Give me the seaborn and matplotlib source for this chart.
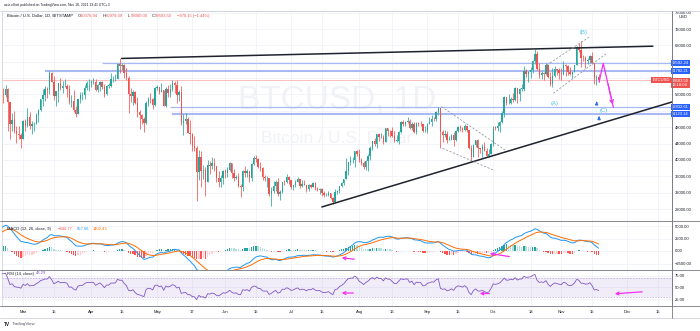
import numpy as np
import pandas as pd
import matplotlib
matplotlib.use("Agg")
import matplotlib.pyplot as plt
from matplotlib.transforms import blended_transform_factory
from matplotlib.ticker import FuncFormatter
import seaborn as sns

# ---------------------------------------------------------------- data
# closes Jan 1 - Feb 19 2021 (only used to warm up the indicators, off-screen)
warmup_close = [29380, 32130, 32980, 31990, 33990, 36780, 39410, 40580, 40240, 38200,
                35540, 33930, 37330, 39160, 36800, 36000, 35800, 36630, 35890, 35470,
                30830, 33000, 32080, 32270, 32370, 32570, 30430, 33440, 34320, 34300,
                33110, 33520, 35490, 37620, 36930, 38300, 39250, 38880, 46390, 46440,
                44840, 47960, 47360, 47170, 48680, 47930, 49150, 52120, 51610, 55910]

first_day = "2021-02-20"

close_feb = [55900, 57400, 54100, 48900, 49700, 47000, 46300, 46100, 45200]
high_feb = [57500, 58350, 57500, 54200, 51400, 52000, 48400, 48300, 46700]
low_feb = [53900, 55500, 47000, 45000, 47000, 46700, 44100, 45200, 43000]

close_mar = [49600, 48400, 50500, 48400, 48800, 48900, 50900, 52300, 54900, 55800, 57300, 57200,
             61200, 59000, 55600, 56900, 58900, 57600, 58000, 58100, 57400, 54100, 54300, 52300,
             51300, 55000, 55800, 55800, 57600, 58800, 58800]
high_mar = [49800, 50100, 52600, 51800, 49400, 49200, 51400, 52400, 54900, 57300, 58000, 57900,
            61800, 61600, 60600, 56900, 58900, 60000, 59400, 59900, 58600, 58400, 55800, 57200,
            53200, 55000, 56500, 56600, 58300, 59300, 59800]
low_mar = [45100, 47100, 48100, 47500, 46300, 47100, 48900, 49300, 51900, 53100, 54300, 55200,
           56100, 59000, 54600, 53300, 54200, 57000, 56300, 57900, 55500, 53700, 53000, 51700,
           50400, 51300, 53900, 54700, 54900, 57000, 56900]

close_apr = [59000, 59000, 57100, 58200, 59100, 57900, 56000, 58100, 58100, 59800, 59800, 59900,
             63500, 62900, 63100, 61300, 60000, 56200, 55700, 56500, 53800, 51700, 51100, 50000,
             49000, 54000, 55000, 54800, 53500, 57700]
high_apr = [59500, 60000, 59800, 58500, 59300, 59400, 58600, 58200, 58900, 61200, 60600, 61100,
            63800, 64800, 63800, 63500, 62500, 60400, 57500, 57000, 56800, 55400, 52100, 51200,
            50500, 54300, 55400, 56400, 55100, 57900]
low_apr = [57900, 58500, 56900, 56500, 56800, 57300, 55500, 55800, 57700, 57900, 59100, 59400,
           59800, 61300, 62100, 60000, 59600, 51500, 54200, 53500, 53700, 50600, 47500, 48800,
           46900, 48800, 53300, 53900, 52400, 53100]

close_may = [57800, 56600, 57200, 53200, 57400, 56400, 57300, 58900, 58200, 55800, 56700, 49100,
             49600, 49900, 46700, 46400, 43500, 42900, 37000, 40700, 37300, 37500, 34700, 38800,
             38400, 39300, 38500, 35700, 34600, 35700, 37300]
high_may = [58400, 57900, 58900, 57200, 57800, 58300, 58600, 59500, 59200, 59500, 57000, 58000,
            51200, 51500, 50600, 49700, 46500, 45800, 43500, 42400, 42200, 38800, 38200, 39900,
            39800, 40800, 40400, 38200, 37300, 36400, 37500]
low_may = [57000, 56100, 56500, 53100, 52900, 55300, 55300, 56900, 56300, 54000, 54500, 48600,
           46200, 48800, 46600, 43800, 42100, 42300, 30000, 35000, 33500, 35300, 31100, 34500,
           36500, 37800, 37200, 34700, 33500, 33400, 34200]

close_jun = [36700, 37600, 39200, 36800, 35500, 35800, 33600, 33400, 37400, 36700, 37300, 35600,
             39100, 40500, 40200, 38300, 38100, 35800, 35500, 35600, 31600, 32500, 33700, 34600,
             31600, 32200, 34700, 34500, 35900, 35000]
high_jun = [37900, 38200, 39400, 39300, 37900, 36400, 36800, 34000, 37500, 38400, 37700, 37400,
            39300, 41000, 41300, 40500, 39500, 38200, 36400, 36100, 35700, 33300, 34800, 35200,
            35500, 32700, 34700, 35200, 36600, 36000]
low_jun = [35700, 35900, 37200, 35600, 34800, 35300, 33400, 31000, 32400, 35800, 35900, 34700,
           34800, 38800, 39500, 38100, 37400, 35100, 34800, 33400, 31300, 28800, 31800, 32300,
           31300, 30200, 32000, 33900, 34300, 34000]

close_jul = [33500, 33800, 34700, 35300, 33700, 34200, 33900, 32900, 33800, 33500, 34300, 33100,
             32700, 32800, 31800, 31400, 31500, 31800, 30800, 29800, 32100, 32300, 33600, 34300,
             35300, 37300, 39400, 40000, 40000, 42200, 41500]
high_jul = [35000, 33900, 35000, 35900, 35300, 35000, 35000, 33900, 34100, 34200, 34600, 34600,
            33300, 33100, 33200, 32300, 31900, 32400, 31900, 31000, 32800, 32600, 33700, 34500,
            35400, 40500, 39500, 40900, 40600, 42300, 42400]
low_jul = [32800, 32700, 33300, 34500, 33200, 33500, 33800, 32100, 32300, 33100, 33300, 32700,
           32300, 31700, 31200, 31000, 31200, 31100, 30500, 29300, 29500, 31700, 32000, 33400,
           33900, 35300, 36400, 38800, 39300, 38300, 41000]

close_aug = [39900, 39200, 38200, 39700, 40900, 42800, 44600, 43800, 46300, 45600, 45600, 44400,
             47800, 47100, 47000, 45900, 44700, 44700, 46800, 49300, 48900, 49300, 49500, 47700,
             48900, 46900, 49100, 48900, 48800, 47000, 47100]
high_aug = [42600, 40400, 39800, 39900, 41400, 43300, 44700, 45300, 46400, 46700, 46700, 46200,
            47900, 47800, 47400, 48000, 47100, 46000, 47000, 49400, 49800, 49500, 50500, 49900,
            49200, 49300, 49200, 49300, 49600, 48900, 48200]
low_aug = [39500, 38700, 37700, 37500, 37400, 39900, 42500, 43300, 42900, 44700, 45400, 43800,
           44300, 45900, 45500, 45700, 44400, 44300, 43900, 46700, 48400, 48200, 49100, 47600,
           47200, 46600, 46400, 48400, 48300, 46900, 46800]

close_sep = [48800, 49300, 50000, 49900, 51800, 52700, 46900, 46100, 46400, 44800, 45200, 46100,
             44900, 47100, 48100, 47800, 47300, 48300, 47200, 43000, 40700, 43600, 44900, 42800,
             42700, 43200, 42200, 41000, 41500, 43800]
high_sep = [49000, 50400, 51000, 50500, 51900, 52900, 52800, 47300, 47300, 47000, 45900, 46400,
            46800, 47200, 48400, 48500, 48100, 48800, 48300, 47300, 43600, 44000, 44900, 45000,
            42900, 43900, 44300, 42800, 42600, 44100]
low_sep = [46600, 48700, 48400, 49500, 49500, 50900, 42800, 44400, 45600, 44200, 44800, 44800,
           43400, 44700, 46800, 47100, 46800, 47100, 46900, 42600, 39600, 40600, 43100, 40800,
           41700, 40800, 42100, 40900, 40800, 41400]

close_oct = [48100, 47700, 48200, 49200, 51500, 55300, 53800, 53900, 55000, 54700, 57500, 56000,
             57400, 57400, 61700, 60900, 61500, 62000, 64300, 66000, 62200, 60700, 61300, 60900,
             63100, 60300, 58500, 60600, 62300, 61900, 61300]
high_oct = [48400, 48300, 49200, 49500, 51900, 55700, 55300, 56100, 55500, 56400, 57800, 57600,
            57700, 58500, 62900, 62300, 61700, 62600, 64400, 67000, 66600, 63700, 61700, 61500,
            63700, 63300, 61400, 62500, 62900, 62300, 62400]
low_oct = [43300, 47400, 47100, 46900, 49100, 50400, 53400, 53700, 53700, 54100, 54500, 54000,
           54300, 56900, 56900, 60200, 59000, 60000, 61300, 63500, 62000, 60000, 59700, 59600,
           60700, 60100, 58100, 57800, 60300, 60800, 59900]

close_nov = [61000, 63300, 62900, 61400, 61000, 61500, 63300, 67500, 66900, 64900, 64800, 64200,
             64400, 65500, 63600, 60100, 60376.94, 59503.50]
high_nov = [62400, 64300, 63500, 63100, 62600, 61600, 63300, 67800, 68500, 69000, 65600, 65400,
            64900, 65600, 66300, 63500, 60800, 60978.39]
low_nov = [59500, 60700, 60400, 60700, 60800, 60100, 61400, 63100, 66400, 62800, 64200, 62400,
           63400, 63600, 63400, 58600, 58400, 59000.00]

# horizontal levels drawn on the chart: (price, start date)
levels = [(63592.24, "2021-04-06"), (61782.21, "2021-03-11"),
          (52832.61, "2021-05-07"), (51123.14, "2021-05-08")]
last_price = 59503.50

grid_prices = [28000, 32000, 36000, 40000, 44000, 48000, 52000, 56000, 60000, 64000,
               68000, 72000, 76000]
label_prices = [28000, 32000, 36000, 40000, 44000, 48000, 56000, 68000, 72000, 76000]
macd_ticks = [-2500, 0, 2500, 5000]
rsi_ticks = [25, 50, 75]
x_tick_dates = ["2021-03-01", "2021-03-15", "2021-04-01", "2021-04-15", "2021-05-01",
                "2021-05-17", "2021-06-01", "2021-06-15", "2021-07-01", "2021-07-15",
                "2021-08-01", "2021-08-16", "2021-09-01", "2021-09-15", "2021-10-01",
                "2021-10-18", "2021-11-01", "2021-11-15", "2021-12-01", "2021-12-15"]
x_tick_labels = ["Mar", "15", "Apr", "15", "May", "17", "Jun", "15", "Jul", "15",
                 "Aug", "16", "Sep", "15", "Oct", "18", "Nov", "15", "Dec", "15"]

# ---------------------------------------------------------------- build frame
closes = np.array(close_feb + close_mar + close_apr + close_may + close_jun + close_jul +
                  close_aug + close_sep + close_oct + close_nov, dtype=float)
highs = np.array(high_feb + high_mar + high_apr + high_may + high_jun + high_jul +
                 high_aug + high_sep + high_oct + high_nov, dtype=float)
lows = np.array(low_feb + low_mar + low_apr + low_may + low_jun + low_jul +
                low_aug + low_sep + low_oct + low_nov, dtype=float)
opens = np.concatenate([[warmup_close[-1]], closes[:-1]])   # 24/7 market: open = prior close

REF = pd.Timestamp("2021-03-01")
def dnum(s):
    return (pd.Timestamp(s) - REF).days

x0 = dnum(first_day)
xs = np.arange(x0, x0 + len(closes))
df = pd.DataFrame({"x": xs, "open": opens, "high": highs, "low": lows, "close": closes})

all_close = pd.Series(np.concatenate([warmup_close, closes]))
all_x = np.arange(x0 - len(warmup_close), x0 + len(closes))
ema12 = all_close.ewm(span=12, adjust=False).mean()
ema26 = all_close.ewm(span=26, adjust=False).mean()
macd = ema12 - ema26
signal = macd.ewm(span=9, adjust=False).mean()
hist = macd - signal
delta = all_close.diff()
gain = delta.clip(lower=0).ewm(alpha=1 / 14, adjust=False).mean()
loss = (-delta.clip(upper=0)).ewm(alpha=1 / 14, adjust=False).mean()
rsi = 100 - 100 / (1 + gain / loss)
ind = pd.DataFrame({"x": all_x, "macd": macd, "signal": signal, "hist": hist, "rsi": rsi})

# ---------------------------------------------------------------- style
sns.set_theme(style="white")
plt.rcParams["font.family"] = ["Liberation Sans", "DejaVu Sans"]
plt.rcParams["axes.unicode_minus"] = True

UP, DN = "#26a69a", "#ef5350"
TXT = "#131722"
GRID = "#f0f3fa"
FS = 2.95

W, H = 700, 331
fig = plt.figure(figsize=(7.0, 3.31), dpi=100, facecolor="white")

def fax(xa, ya, xb, yb, **kw):
    return fig.add_axes([xa / W, 1 - yb / H, (xb - xa) / W, (yb - ya) / H], **kw)

ax_p = fax(2, 11, 672, 221)
ax_m = fax(2, 221, 672, 270, sharex=ax_p)
ax_r = fax(2, 270, 672, 306, sharex=ax_p)

XL = (-9.6, 295.4)
ax_p.set_xlim(*XL)
ax_p.set_ylim(25067, 76400)
ax_m.set_ylim(-3800, 6000)
ax_r.set_ylim(9.8, 88)

xt = [dnum(d) for d in x_tick_dates]
for a in (ax_p, ax_m, ax_r):
    a.set_facecolor("white")
    for x in xt:
        a.axvline(x, color=GRID, lw=0.6, zorder=0)
    a.yaxis.tick_right()
    a.tick_params(axis="y", length=0, pad=2.2, labelsize=FS, labelcolor=TXT)
    a.tick_params(axis="x", length=0)
    for s in a.spines.values():
        s.set_color("#d1d4dc")
        s.set_linewidth(0.6)
    a.spines["right"].set_color("#787b86")

fmt = FuncFormatter(lambda v, p: f"{v:.2f}".replace("-", "\u2212"))
ax_p.set_yticks(label_prices)
ax_p.yaxis.set_major_formatter(fmt)
ax_m.set_yticks(macd_ticks)
ax_m.yaxis.set_major_formatter(fmt)
ax_r.set_yticks(rsi_ticks)
ax_r.yaxis.set_major_formatter(fmt)
for t in grid_prices:
    ax_p.axhline(t, color=GRID, lw=0.6, zorder=0)
for t in macd_ticks:
    ax_m.axhline(t, color=GRID, lw=0.6, zorder=0)
for t in rsi_ticks:
    ax_r.axhline(t, color=GRID, lw=0.6, zorder=0)

plt.setp(ax_p.get_xticklabels(), visible=False)
plt.setp(ax_m.get_xticklabels(), visible=False)
ax_r.set_xticks(xt)
ax_r.set_xticklabels(x_tick_labels)
ax_r.tick_params(axis="x", labelsize=FS, labelcolor=TXT, pad=3.0)

# ---------------------------------------------------------------- watermark
ax_p.text(0.5, 0.576, "BTCUSD, 1D", transform=ax_p.transAxes, ha="center", va="center",
          fontsize=24, color="#f0f2f6", zorder=0.5)
ax_p.text(0.5, 0.392, "Bitcoin / U.S. Dollar", transform=ax_p.transAxes, ha="center",
          va="center", fontsize=12.5, color="#f0f2f6", zorder=0.5)

# ---------------------------------------------------------------- candles
cols = np.where(df["close"] >= df["open"], UP, DN)
ax_p.vlines(df["x"], df["low"], df["high"], colors=cols, lw=0.55, zorder=3)
body = np.maximum((df["close"] - df["open"]).abs(), 90)
ax_p.bar(df["x"], body, bottom=np.minimum(df["open"], df["close"]), width=0.62,
         color=cols, linewidth=0, zorder=3)

# horizontal levels + current price
bt = blended_transform_factory(ax_p.transAxes, ax_p.transData)
lw_lv = [0.9, 1.5, 0.9, 1.5]
for (lv, d0), lw in zip(levels, lw_lv):
    ax_p.hlines(lv, dnum(d0), XL[1], color="#a9b9f2", lw=lw, zorder=2)
    ax_p.text(1.0, lv, f"{lv:.2f}", transform=bt, ha="left", va="center", fontsize=FS,
              color="white", zorder=10, clip_on=False,
              bbox=dict(boxstyle="square,pad=0.25", fc="#2962ff", ec="none"))
ax_p.axhline(last_price, color="#f7b5b4", lw=0.6, zorder=2)
ax_p.text(1.0, last_price - 700, f"{last_price:.2f}\n13:18:04", transform=bt, ha="left",
          va="center", fontsize=FS, color="white", zorder=10, clip_on=False, linespacing=1.3,
          bbox=dict(boxstyle="square,pad=0.25", fc="#ef5350", ec="none"))
ax_p.text(0.997, last_price, "BTCUSD", transform=bt, ha="right", va="center", fontsize=FS,
          color="white", zorder=10,
          bbox=dict(boxstyle="square,pad=0.25", fc="#ef5350", ec="none"))

# trend lines
ax_p.plot([44.9, 286.7], [64800, 67800], color="#1e222d", lw=1.1, zorder=4)
ax_p.plot([136, 320], [28495, 58120], color="#1e222d", lw=1.1, zorder=4)
dash = dict(color="#9598a1", lw=0.6, ls=(0, (2.5, 2)), zorder=4)
ax_p.plot([190.5, 219.4], [53010, 42420], **dash)
ax_p.plot([191, 214], [42840, 37530], **dash)
ax_p.plot([238.4, 258], [63200, 70120], **dash)
ax_p.plot([241.4, 265.7], [56280, 66060], **dash)

# wave labels
wcol = "#4fc3e8"
for lbl, (xx, yy) in {"(B)": (255, 71100), "(A)": (241.8, 53670), "(C)": (264.1, 52030)}.items():
    ax_p.text(xx, yy, lbl, ha="center", va="center", fontsize=4.2, color=wcol, zorder=6)
for xx, yb, yt in [(261.1, 53300, 55000), (262.2, 49700, 51400)]:
    ax_p.annotate("", xy=(xx, yt), xytext=(xx, yb),
                  arrowprops=dict(arrowstyle="-|>", color="#2f6fef", lw=0.9, mutation_scale=4),
                  zorder=6)

# magenta projection
MAG = "#f230f2"
ax_p.plot([262.2, 264.1, 268.7], [59045, 63616, 52860], color=MAG, lw=0.9, zorder=7)
ax_p.annotate("", xy=(268.7, 52860), xytext=(266.0, 59200),
              arrowprops=dict(arrowstyle="->", color=MAG, lw=0.9, mutation_scale=6), zorder=7)

# ---------------------------------------------------------------- MACD
hc = []
hv = ind["hist"].values
for i, v in enumerate(hv):
    prev = hv[i - 1] if i > 0 else v
    if v >= 0:
        hc.append("#26a69a" if v >= prev else "#b2dfdb")
    else:
        hc.append("#ff5252" if v < prev else "#ffcdd2")
ax_m.bar(ind["x"], ind["hist"], width=0.62, color=hc, linewidth=0, zorder=2)
sns.lineplot(data=ind, x="x", y="macd", ax=ax_m, color="#2196f3", lw=0.7, zorder=3)
sns.lineplot(data=ind, x="x", y="signal", ax=ax_m, color="#ff6d00", lw=0.7, zorder=3)
ax_m.set_xlabel("")
ax_m.set_ylabel("")

# ---------------------------------------------------------------- RSI
ax_r.axhspan(30, 70, color="#7e57c2", alpha=0.1, lw=0, zorder=1)
for lv in (70, 30):
    ax_r.axhline(lv, color="#b39ddb", lw=0.5, ls=(0, (2, 2)), zorder=1)
sns.lineplot(data=ind, x="x", y="rsi", ax=ax_r, color="#7e57c2", lw=0.6, zorder=3)
ax_r.set_xlabel("")
ax_r.set_ylabel("")
ax_p.set_xlabel("")
ax_p.set_ylabel("")

# magenta divergence arrows
arr = dict(arrowstyle="->", color=MAG, lw=0.9, mutation_scale=5)
ax_m.annotate("", xy=(143.8, -1300), xytext=(152.0, -1700), arrowprops=arr, annotation_clip=False)
ax_m.annotate("", xy=(211.2, -400), xytext=(222.6, -1200), arrowprops=arr, annotation_clip=False)
ax_r.annotate("", xy=(143.8, 38), xytext=(151.6, 38), arrowprops=arr)
ax_r.annotate("", xy=(206.6, 37), xytext=(213.5, 37), arrowprops=arr)
ax_r.annotate("", xy=(268.1, 36), xytext=(283.1, 41), arrowprops=arr)

# ---------------------------------------------------------------- text / frame
def ftxt(x, y, s, **kw):
    kw.setdefault("fontsize", FS)
    kw.setdefault("color", TXT)
    fig.text(x / W, 1 - y / H, s, va="center", ha=kw.pop("ha", "left"), **kw)

ftxt(4, 5, "aziz.elliott published on TradingView.com, Nov 18, 2021 13:41 UTC+3", fontsize=2.4)
ftxt(7, 16, "Bitcoin / U.S. Dollar, 1D, BITSTAMP")
red = "#ef5350"
for x, k, v in [(78, "O", "60376.94"), (103, "H", "60978.39"), (128, "L", "59000.00"),
                (152, "C", "59503.50")]:
    ftxt(x, 16, k)
    ftxt(x + 2.6, 16, v, color=red)
ftxt(177, 16, "\u2212870.15 (\u22121.44%)", color=red)
ftxt(7, 229, "MACD (12, 26, close, 9)")
ftxt(58, 229, "\u2212844.77", color="#ff5252")
ftxt(77, 229, "557.66", color="#2196f3")
ftxt(93, 229, "1402.43", color="#ff6d00")
ftxt(7, 273.5, "RSI (14, close)")
ftxt(36, 273.5, "43.29", color="#7e57c2")
ftxt(679, 17, "USD")
ftxt(4, 324, "TV", fontsize=3.4, fontweight="bold")
ftxt(12, 324, "TradingView", fontsize=3.2, color="#50535e")

for yy, c in [(11, "#d1d4dc"), (221, "#787b86"), (270, "#787b86"), (306, "#787b86"),
              (318, "#d1d4dc")]:
    fig.add_artist(plt.Line2D([0, 1], [1 - yy / H] * 2, color=c, lw=0.6))
fig.add_artist(plt.Line2D([672 / W] * 2, [1 - 318 / H, 1 - 11 / H], color="#787b86", lw=0.6))

fig.savefig("out.png", dpi=100, facecolor="white")
